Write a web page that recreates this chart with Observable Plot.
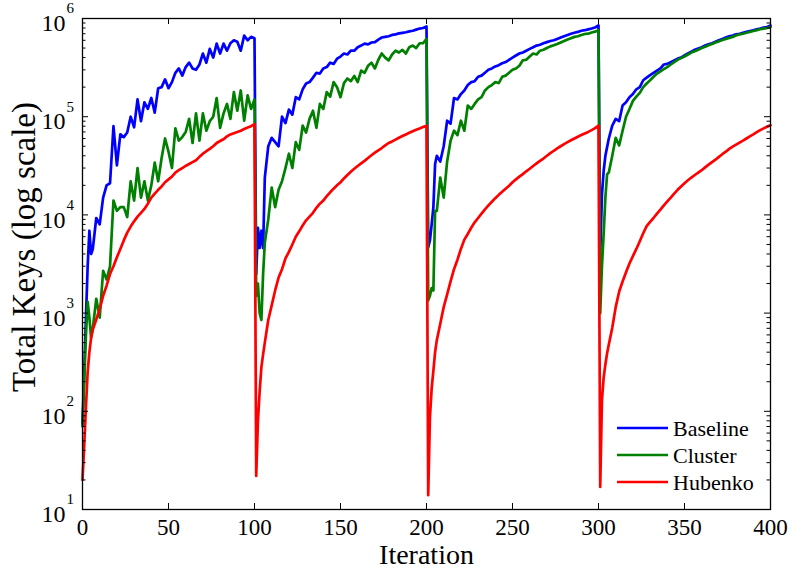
<!DOCTYPE html>
<html><head><meta charset="utf-8">
<script src="https://cdn.jsdelivr.net/npm/d3@7"></script>
<script src="https://cdn.jsdelivr.net/npm/@observablehq/plot@0.6"></script>
<style>body{margin:0;background:#fff}#chart{width:789px;height:571px}</style>
</head><body><div id="chart"></div>
<script>
const seriesNames = ["Baseline", "Cluster", "Hubenko"];
const seriesColors = ["#0000ff", "#008000", "#ff0000"];

const iterations = [
  0,1,2,3,4,5,6,8,10,12,14,16,18,20,22,24,26,28,30,32,34,36,38,40,42,44,46,48,50,52,54,56,58,60,62,64,66,68,70,72,74,76,78,80,82,84,86,88,90,92,94,96,98,100,
  101,102,103,104,105,106,108,110,112,114,116,118,120,122,124,126,128,130,132,134,136,138,140,142,144,146,148,150,152,154,156,158,160,162,164,166,168,170,172,174,176,178,180,182,184,186,188,190,192,194,196,198,200,
  201,202,203,204,205,206,208,210,212,214,216,218,220,222,224,226,228,230,232,234,236,238,240,242,244,246,248,250,252,254,256,258,260,262,264,266,268,270,272,274,276,278,280,282,284,286,288,290,292,294,296,298,300,
  301,302,303,304,305,306,308,310,312,314,316,318,320,322,324,326,328,330,332,334,336,338,340,342,344,346,348,350,352,354,356,358,360,362,364,366,368,370,372,374,376,378,380,382,384,386,388,390,392,394,396,398,400
];

const baseline = [
  75,250,900,3000,6900,4000,4500,
  9300,8000,15000,20000,21000,80000,32000,66000,62000,69000,
  100000,78000,150000,90000,140000,120000,155000,110000,195000,200000,
  240000,195000,225000,280000,310000,262000,320000,355000,310000,300000,
  340000,440000,355000,490000,400000,555000,440000,555000,470000,560000,
  600000,580000,470000,670000,600000,650000,630000,
  2500,7400,4600,6900,4600,24000,
  50000,61000,55000,50000,100000,86000,118000,105000,158000,150000,
  190000,218000,225000,250000,280000,275000,310000,320000,355000,345000,
  390000,410000,440000,430000,470000,470000,510000,530000,555000,545000,
  570000,575000,610000,640000,650000,660000,680000,690000,705000,715000,
  725000,740000,750000,770000,790000,800000,830000,
  4700,5500,8000,12000,33000,40000,
  35000,50000,91000,85000,155000,150000,170000,185000,210000,225000,
  230000,255000,262000,280000,300000,310000,325000,335000,350000,360000,
  380000,400000,420000,440000,450000,470000,490000,510000,530000,540000,
  560000,575000,590000,600000,620000,640000,660000,680000,700000,715000,
  730000,750000,760000,775000,790000,810000,850000,
  4000,16000,28000,40000,49000,60000,
  81000,95000,90000,130000,140000,158000,170000,190000,200000,235000,
  250000,265000,280000,295000,310000,340000,345000,360000,375000,390000,
  400000,420000,440000,460000,480000,495000,510000,530000,545000,560000,
  580000,600000,620000,640000,660000,670000,690000,700000,715000,730000,
  745000,760000,775000,790000,810000,820000,850000
];

const cluster = [
  70,200,600,1300,900,560,700,
  1400,900,2700,2200,3000,14000,11000,12000,12000,9500,
  22000,14000,30000,15000,22000,14000,20000,34000,22000,38000,
  60000,44000,30000,76000,57000,62000,70000,95000,54000,108000,
  57000,108000,72000,90000,100000,155000,77000,108000,135000,95000,
  178000,115000,185000,91000,165000,120000,150000,
  1500,2000,1000,850,2500,5200,
  9000,19000,12000,18000,22000,30000,42000,30000,55000,46000,
  81000,69000,95000,115000,77000,135000,120000,178000,160000,225000,
  200000,158000,220000,245000,230000,260000,225000,295000,280000,330000,
  355000,310000,380000,440000,400000,375000,430000,470000,450000,480000,
  440000,510000,530000,500000,560000,560000,620000,
  1350,1500,1800,1700,11000,11000,
  24000,15000,35000,57000,72000,65000,91000,72000,130000,120000,
  135000,150000,158000,185000,200000,210000,225000,220000,255000,262000,
  280000,300000,310000,330000,375000,380000,410000,440000,430000,470000,
  480000,500000,520000,535000,550000,570000,590000,610000,630000,650000,
  660000,680000,695000,700000,720000,735000,760000,
  1000,3000,6400,15000,26000,27000,
  40000,61000,51000,72000,100000,120000,145000,160000,175000,200000,
  218000,235000,255000,275000,290000,305000,320000,340000,360000,380000,
  395000,410000,430000,450000,465000,480000,500000,515000,535000,550000,
  570000,585000,605000,620000,635000,650000,670000,690000,700000,715000,
  730000,745000,760000,780000,790000,800000,820000
];

const hubenko = [
  20,45,110,250,400,560,680,
  860,1100,1500,1900,2500,3000,3700,4500,5500,6600,
  7600,8600,9600,10500,11500,13000,15000,16500,18000,19500,
  21500,23000,24500,27000,28500,30000,31500,33000,34500,36000,
  39000,42000,44500,47000,50000,54000,56500,59000,63000,66000,
  68000,70000,72000,75000,77500,80000,84000,
  22,80,160,280,380,500,
  850,1200,1700,2300,2800,3600,4200,5000,6000,6800,
  7800,8800,9600,10500,11800,13000,14000,15500,17000,18500,
  20000,21500,23500,25500,27500,29500,31500,33500,35500,38000,
  40500,43000,45500,48000,51000,54000,56000,58500,61000,63500,
  66000,68500,71000,73500,76000,78500,81000,
  14,87,170,260,400,530,
  780,1150,1550,2100,2800,3500,4500,5600,6400,7400,
  8400,9300,10300,11400,12500,13600,14800,16000,17200,18500,
  19800,21500,23000,24500,26000,27800,29500,31500,33500,35500,
  37500,40000,42500,45000,47500,50000,52500,55000,57500,60000,
  62500,65000,67500,70000,73000,76500,81000,
  17,130,220,300,390,480,
  710,1150,1650,2100,2600,3200,3800,4500,5400,6500,
  7700,8500,9300,10300,11300,12500,13700,15000,16500,18000,
  19500,21000,22500,24000,25500,27000,28500,30500,32500,34500,
  36500,39000,41500,44000,47000,49500,52000,54500,57000,60000,
  63000,66000,69500,73000,76000,79000,82000
];

const xTicks = [0, 50, 100, 150, 200, 250, 300, 350, 400];
const yMajor = [10, 100, 1000, 10000, 100000, 1000000];
const yExponents = ["1", "2", "3", "4", "5", "6"];
const minorFactors = [2, 3, 4, 5, 6, 7, 8, 9];
const yMinor = yMajor.slice(0, -1).flatMap(d => minorFactors.map(k => d * k));

const valueLists = [baseline, cluster, hubenko];
const rows = [];
seriesNames.forEach((name, si) => {
  iterations.forEach((it, i) => rows.push({series: name, iter: it, keys: valueLists[si][i]}));
});

const W = 789, H = 571, mL = 82, mR = 19, mT = 18, mB = 62;
const pw = W - mL - mR, ph = H - mT - mB;
const font = "'Liberation Serif','Times New Roman',Times,serif";

const chart = Plot.plot({
  width: W, height: H,
  marginLeft: mL, marginRight: mR, marginTop: mT, marginBottom: mB,
  style: {fontFamily: font, background: "white", color: "black", overflow: "visible"},
  x: {domain: [0, 400], axis: null},
  y: {type: "log", domain: [10, 1e6], axis: null},
  color: {domain: seriesNames, range: seriesColors},
  marks: [
    Plot.line(rows, {x: "iter", y: "keys", stroke: "series", z: "series", strokeWidth: 2.7}),
    Plot.frame({stroke: "black", strokeWidth: 1.3}),
    Plot.tickX(xTicks, {x: d => d, insetTop: ph - 6, stroke: "black"}),
    Plot.tickX(xTicks, {x: d => d, insetBottom: ph - 6, stroke: "black"}),
    Plot.tickY(yMajor, {y: d => d, insetRight: pw - 6, stroke: "black"}),
    Plot.tickY(yMajor, {y: d => d, insetLeft: pw - 6, stroke: "black"}),
    Plot.tickY(yMinor, {y: d => d, insetRight: pw - 3.5, stroke: "black"}),
    Plot.tickY(yMinor, {y: d => d, insetLeft: pw - 3.5, stroke: "black"}),
    Plot.text(xTicks, {x: d => d, text: d => String(d), frameAnchor: "bottom", dy: 25, fontSize: 23, fill: "black"}),
    Plot.text(yMajor, {y: d => d, text: () => "10", frameAnchor: "left", dx: -17, dy: 5, textAnchor: "end", fontSize: 24, fill: "black"}),
    Plot.text(yMajor, {y: d => d, text: (d, i) => yExponents[i], frameAnchor: "left", dx: -16, dy: -10, textAnchor: "start", fontSize: 15, fill: "black"}),
    Plot.text(["Iteration"], {text: d => d, frameAnchor: "bottom", dy: 54, fontSize: 28, fill: "black"}),
    Plot.text(["Total Keys (log scale)"], {text: d => d, frameAnchor: "left", textAnchor: "middle", lineAnchor: "middle", dx: -58, dy: -17, rotate: -90, fontSize: 33, fill: "black"})
  ]
});

document.getElementById("chart").appendChild(chart);

// legend (layout overlay)
const svg = d3.select(chart);
const lg = svg.append("g").attr("font-family", font).attr("font-size", 22).attr("text-anchor", "start");
seriesNames.forEach((name, i) => {
  const yy = 428 + 27 * i;
  lg.append("line").attr("x1", 617).attr("x2", 668).attr("y1", yy).attr("y2", yy)
    .attr("stroke", seriesColors[i]).attr("stroke-width", 2.7);
  lg.append("text").attr("x", 673).attr("y", yy).attr("dy", "0.35em")
    .attr("text-anchor", "start").attr("fill", "black").text(name);
});
</script>
</body></html>
